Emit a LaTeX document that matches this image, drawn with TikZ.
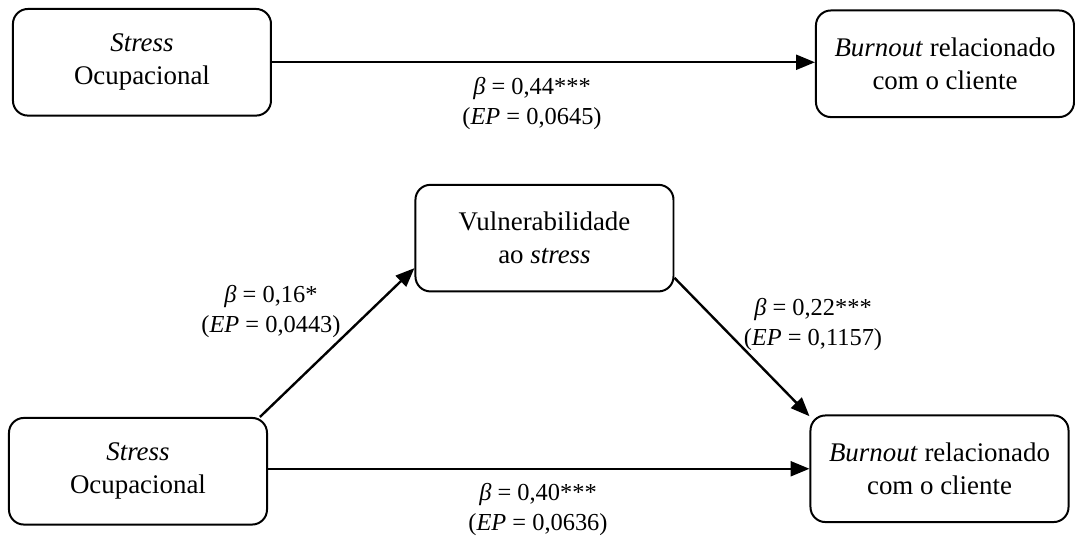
\documentclass[tikz,border=0pt]{standalone}
\usepackage{fontspec}
\setmainfont{Liberation Serif}
\usetikzlibrary{arrows.meta}

\tikzset{
  varbox/.style={draw, line width=2pt, rounded corners=15pt, align=center,
    minimum width=259pt, minimum height=107pt, inner sep=0pt,
    font=\fontsize{27}{33}\selectfont},
  coef/.style={align=center, inner sep=0pt, font=\fontsize{24.5}{30}\selectfont},
  seta/.style={line width=2.4pt, -{Triangle[length=19pt, width=15pt]}}
}

\begin{document}
\begin{tikzpicture}[x=1pt, y=-1pt]

  %% ---- modelo total (c) ----
  \node[varbox] (so1) at (142.5,62.5) {\textit{Stress}\\Ocupacional};
  \node[varbox] (bo1) at (948.5,64) {\textit{Burnout} relacionado\\com o cliente};
  \draw[seta] (so1.east) -- (so1.east -| bo1.west);
  \node[coef] (c1) at (534,104) {\textit{β} = 0,44***\\(\textit{EP} = 0,0645)};

  %% ---- modelo de mediação ----
  \node[varbox] (so2) at (138.5,473) {\textit{Stress}\\Ocupacional};
  \node[varbox] (vs) at (546.5,239) {Vulnerabilidade\\ao \textit{stress}};
  \node[varbox] (bo2) at (943,470.5) {\textit{Burnout} relacionado\\com o cliente};

  \draw[seta] (so2.24.6) -- (vs.193.6);
  \draw[seta] (vs.-17) -- (bo2.158);
  \draw[seta] (so2.east |- bo2.west) -- (bo2.west);

  \node[coef] (a1) at (272,313) {\textit{β} = 0,16*\\(\textit{EP} = 0,0443)};
  \node[coef] (b1) at (816,326) {\textit{β} = 0,22***\\(\textit{EP} = 0,1157)};
  \node[coef] (c2) at (540,511) {\textit{β} = 0,40***\\(\textit{EP} = 0,0636)};

  \path[use as bounding box] (0,0) rectangle (1075,541);
\end{tikzpicture}
\end{document}
